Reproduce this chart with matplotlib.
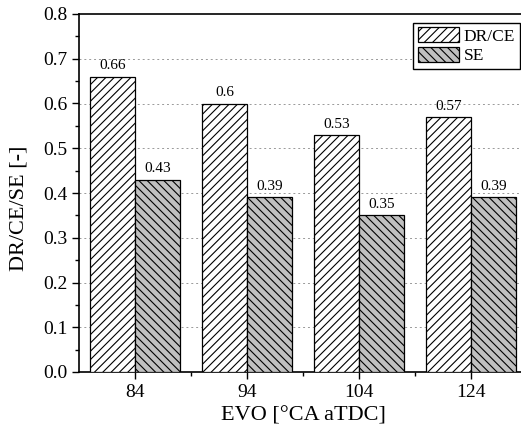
import numpy as np
import matplotlib
matplotlib.use("Agg")
import matplotlib.pyplot as plt
from matplotlib.ticker import MultipleLocator, FixedLocator, FormatStrFormatter

plt.rcParams['font.family'] = ['Liberation Serif', 'DejaVu Serif']
plt.rcParams['hatch.linewidth'] = 0.8

# data
evo = ['84', '94', '104', '124']
dr_ce = [0.66, 0.60, 0.53, 0.57]
se = [0.43, 0.39, 0.35, 0.39]
dr_ce_labels = ['0.66', '0.6', '0.53', '0.57']
se_labels = ['0.43', '0.39', '0.35', '0.39']

fig = plt.figure(figsize=(5.21, 4.32), dpi=100)
ax = fig.add_axes([79 / 521, 1 - 372 / 432, 448 / 521, 358 / 432])

x = np.arange(len(evo))
w = 0.4
b1 = ax.bar(x - w / 2, dr_ce, w, color='white', edgecolor='black',
            hatch='////', linewidth=0.9, label='DR/CE', zorder=3)
b2 = ax.bar(x + w / 2, se, w, color='#c0c0c0', edgecolor='black',
            hatch='\\\\\\\\', linewidth=0.9, label='SE', zorder=3)

for rect, lab in zip(b1, dr_ce_labels):
    ax.annotate(lab, (rect.get_x() + rect.get_width() / 2, rect.get_height()),
                xytext=(0, 3), textcoords='offset points', ha='center',
                va='bottom', fontsize=11)
for rect, lab in zip(b2, se_labels):
    ax.annotate(lab, (rect.get_x() + rect.get_width() / 2, rect.get_height()),
                xytext=(0, 3), textcoords='offset points', ha='center',
                va='bottom', fontsize=11)

ax.set_xlim(-0.5, 3.5)
ax.set_ylim(0, 0.8)
ax.set_xticks(x)
ax.set_xticklabels(evo)
ax.xaxis.set_minor_locator(FixedLocator([0.5, 1.5, 2.5]))
ax.yaxis.set_major_locator(MultipleLocator(0.1))
ax.yaxis.set_minor_locator(MultipleLocator(0.05))
ax.yaxis.set_major_formatter(FormatStrFormatter('%.1f'))

ax.tick_params(axis='both', which='major', labelsize=14, length=5, width=1,
               direction='out')
ax.tick_params(axis='both', which='minor', length=3, width=1, direction='out')

for y in np.arange(0.1, 0.75, 0.1):
    ax.axhline(y, color='#999999', linestyle=(0, (2, 3)), linewidth=0.7, zorder=1)

for s in ax.spines.values():
    s.set_linewidth(1.2)

ax.set_xlabel('EVO [°CA aTDC]', fontsize=16)
ax.set_ylabel('DR/CE/SE [-]', fontsize=16)
ax.yaxis.set_label_coords(-0.112, 0.458)

fig.legend(handles=[b1, b2], loc='upper right',
           bbox_to_anchor=(519.5 / 521, 1 - 23 / 432), fontsize=12.5,
           fancybox=False, edgecolor='black', framealpha=1,
           borderaxespad=0, borderpad=0.25, labelspacing=0.15,
           handlelength=2.35, handleheight=0.9, handletextpad=0.3)

fig.savefig('out.png', dpi=100)
